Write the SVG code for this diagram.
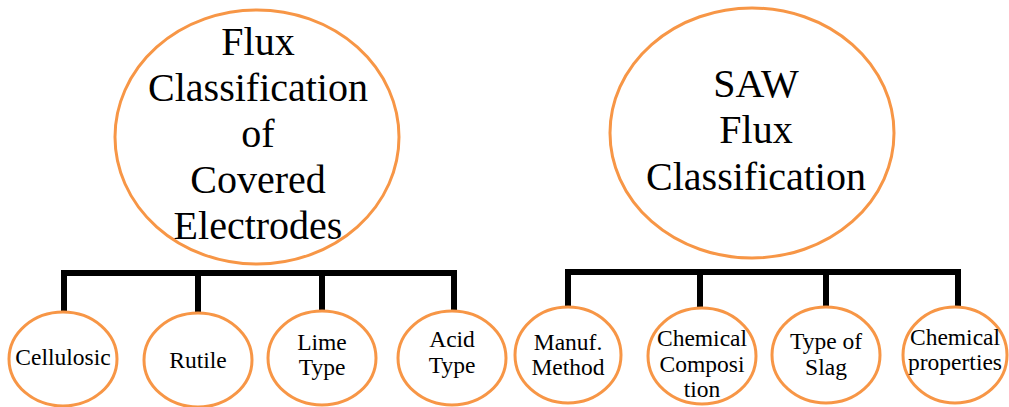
<svg xmlns="http://www.w3.org/2000/svg" width="1009" height="407" viewBox="0 0 1009 407">
  <style>
    .node { fill: #ffffff; stroke: #F79646; stroke-width: 3; }
    text { font-family: 'Liberation Serif', 'DejaVu Serif', serif; fill: #000; text-anchor: middle; }
    .big { font-size: 40px; }
    .small { font-size: 23.5px; }
    .link { fill: none; stroke: #000; stroke-width: 6; stroke-linecap: square; stroke-linejoin: miter; }
  </style>
  <rect width="1009" height="407" fill="#ffffff"/>

  <!-- tree connectors -->
  <g id="connectors">
    <path class="link" d="M64,312 V273 H454 V310 M198,273 V313 M322,273 V311"/>
    <path class="link" d="M568,307 V272 H958 V306 M700,272 V307 M826,272 V307"/>
  </g>

  <!-- left tree -->
  <g id="covered-electrodes" font-family="Liberation Serif, serif">
    <ellipse class="node" cx="257" cy="137" rx="142" ry="127"/>
    <text class="big" x="258" y="55">Flux</text>
    <text class="big" x="258" y="101">Classification</text>
    <text class="big" x="258" y="147">of</text>
    <text class="big" x="258" y="193">Covered</text>
    <text class="big" x="258" y="239">Electrodes</text>
  </g>
  <g id="cellulosic">
    <ellipse class="node" cx="63" cy="359" rx="54" ry="47"/>
    <text class="small" x="63" y="365">Cellulosic</text>
  </g>
  <g id="rutile">
    <ellipse class="node" cx="198" cy="360" rx="54" ry="47"/>
    <text class="small" x="198" y="368">Rutile</text>
  </g>
  <g id="lime-type">
    <ellipse class="node" cx="322" cy="358" rx="54" ry="47"/>
    <text class="small" x="322" y="350">Lime</text>
    <text class="small" x="322" y="375">Type</text>
  </g>
  <g id="acid-type">
    <ellipse class="node" cx="452" cy="358" rx="54" ry="47"/>
    <text class="small" x="452" y="347">Acid</text>
    <text class="small" x="452" y="373">Type</text>
  </g>

  <!-- right tree -->
  <g id="saw-flux">
    <ellipse class="node" cx="752" cy="133" rx="142" ry="125"/>
    <text class="big" x="756" y="97">SAW</text>
    <text class="big" x="756" y="143">Flux</text>
    <text class="big" x="756" y="190">Classification</text>
  </g>
  <g id="manuf-method">
    <ellipse class="node" cx="568" cy="355" rx="53" ry="48"/>
    <text class="small" x="568" y="350">Manuf.</text>
    <text class="small" x="568" y="375">Method</text>
  </g>
  <g id="chemical-composition">
    <ellipse class="node" cx="702" cy="356" rx="54" ry="48"/>
    <text class="small" x="702" y="346">Chemical</text>
    <text class="small" x="702" y="372">Composi</text>
    <text class="small" x="702" y="397">tion</text>
  </g>
  <g id="type-of-slag">
    <ellipse class="node" cx="826" cy="355" rx="54" ry="48"/>
    <text class="small" x="826" y="349">Type of</text>
    <text class="small" x="826" y="375">Slag</text>
  </g>
  <g id="chemical-properties">
    <ellipse class="node" cx="955" cy="355" rx="52" ry="48"/>
    <text class="small" x="955" y="345">Chemical</text>
    <text class="small" x="955" y="370">properties</text>
  </g>
</svg>
